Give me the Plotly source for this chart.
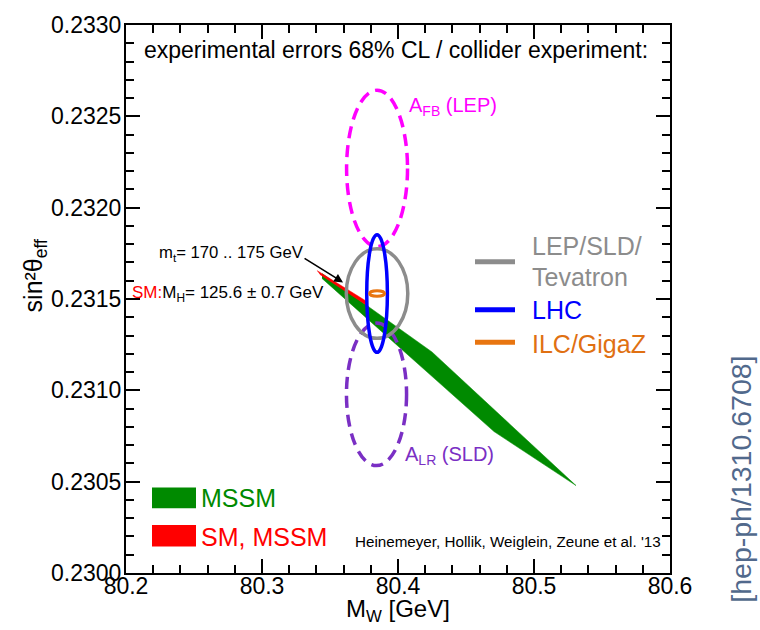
import plotly.graph_objects as go

# ---- data ---------------------------------------------------------------
# central value of the current measurements
mw_center = 80.3846
sw_center = 0.23153

# 68% CL error ellipses (semi-axes) of the collider scenarios
experiments = ["LEP/SLD/<br>Tevatron", "LHC", "ILC/GigaZ"]
exp_colors = ["#8c8c8c", "#0000ff", "#e87510"]
exp_mw_err = [0.0226, 0.0076, 0.0055]
exp_sw_err = [0.000245, 0.000322, 0.000015]
exp_widths = [3.5, 3.5, 3.0]

# single-observable ellipses
afb_center = (80.3846, 0.232215)
afb_err = (0.0224, 0.000428)
alr_center = (80.3842, 0.230978)
alr_err = (0.0221, 0.000390)

# MSSM prediction band (outline)
mssm_mw = [80.3441, 80.4250, 80.5309, 80.4706, 80.3441]
mssm_sw = [0.231640, 0.231210, 0.2304785, 0.2307742, 0.2316129]

# SM prediction strip (outline)
sm_mw = [80.3404, 80.3765, 80.3765, 80.3426]
sm_sw = [0.2316559, 0.2314892, 0.2314677, 0.2316344]

x_range = [80.2, 80.6]
y_range = [0.2300, 0.2330]

FONT = "Liberation Sans, Arial, Helvetica, sans-serif"
W, H = 760, 630
ML, MR, MT, MB = 126, 90, 15, 57
PW, PH = W - ML - MR, H - MT - MB


def px(x):
    return (x - ML) / PW


def py(y):
    return (H - MB - y) / PH


fig = go.Figure()

# MSSM band and SM strip
fig.add_trace(go.Scatter(x=mssm_mw, y=mssm_sw, fill="toself", mode="lines",
                         line=dict(color="#008a00", width=0.5),
                         fillcolor="#008a00", hoverinfo="skip", showlegend=False))
fig.add_trace(go.Scatter(x=sm_mw, y=sm_sw, fill="toself", mode="lines",
                         line=dict(color="#ff0000", width=0.5),
                         fillcolor="#ff0000", hoverinfo="skip", showlegend=False))

shapes = []
# dashed single-observable ellipses
for (cx, cy), (ex, ey), col in [(afb_center, afb_err, "#ff00ff"),
                                (alr_center, alr_err, "#7a2fc4")]:
    shapes.append(dict(type="circle", xref="x", yref="y",
                       x0=cx - ex, x1=cx + ex, y0=cy - ey, y1=cy + ey,
                       line=dict(color=col, width=3.5, dash="12px,7px"),
                       layer="above"))

# collider ellipses
for ex, ey, col, lw in zip(exp_mw_err, exp_sw_err, exp_colors, exp_widths):
    shapes.append(dict(type="circle", xref="x", yref="y",
                       x0=mw_center - ex, x1=mw_center + ex,
                       y0=sw_center - ey, y1=sw_center + ey,
                       line=dict(color=col, width=lw), layer="above"))

# legend glyphs
for yy, col in [(256, exp_colors[0]), (305, exp_colors[1]), (338, exp_colors[2])]:
    shapes.append(dict(type="line", xref="paper", yref="paper",
                       x0=px(475), x1=px(515), y0=py(yy), y1=py(yy),
                       line=dict(color=col, width=5)))
for (y0, y1), col in [((486, 507), "#008a00"), ((524, 546), "#ff0000")]:
    shapes.append(dict(type="rect", xref="paper", yref="paper",
                       x0=px(152), x1=px(196), y0=py(y1), y1=py(y0),
                       line=dict(width=0), fillcolor=col))

ann = []


def text(s, x, y, size, color="black", xanchor="left", angle=0):
    ann.append(dict(text=s, x=px(x), y=py(y), xref="paper", yref="paper",
                    xanchor=xanchor, yanchor="middle", showarrow=False,
                    textangle=angle, font=dict(family=FONT, size=size, color=color)))


text("experimental errors 68% CL / collider experiment:", 396, 40, 23, xanchor="center")
text("A<sub>FB</sub> (LEP)", 407, 98, 20, "#ff00ff")
text("A<sub>LR</sub> (SLD)", 403, 453, 20, "#7a2fc4")
text("m<sub>t</sub>= 170 .. 175 GeV", 157, 248, 16.7)
text("<span style='color:#ff0000'>SM:</span>M<sub>H</sub>= 125.6 ± 0.7 GeV", 130, 289, 17)
text("LEP/SLD/", 530, 240, 25, exp_colors[0])
text("Tevatron", 530, 272, 25, exp_colors[0])
text("LHC", 530, 305, 25, exp_colors[1])
text("ILC/GigaZ", 530, 340, 25, "#e07012")
text("MSSM", 199, 497, 25, "#008a00")
text("SM, MSSM", 199, 536, 25, "#ff0000")
text("Heinemeyer, Hollik, Weiglein, Zeune et al. '13", 663, 541, 15.2, xanchor="right")
text("[hep-ph/1310.6708]", 741, 478, 28.5, "#51698c", xanchor="center", angle=-90)
text("sin²θ<sub>eff</sub>", 35, 271, 25, xanchor="center", angle=-90)
text("M<sub>W</sub> [GeV]", 398, 611, 24, xanchor="center")

# arrow pointing at the m_t range end of the SM strip
ann.append(dict(x=80.3596, y=0.231591, xref="x", yref="y", ax=-40, ay=-25,
                text="", showarrow=True, arrowhead=2, arrowsize=1.1,
                arrowwidth=1.6, arrowcolor="black"))

axis_common = dict(showgrid=False, zeroline=False, showline=True, linecolor="black",
                   linewidth=2, mirror="ticks", ticks="inside", tickwidth=2,
                   tickcolor="black", tickfont=dict(family=FONT, size=23, color="black"))

fig.update_layout(
    width=W, height=H,
    margin=dict(l=ML, r=MR, t=MT, b=MB, pad=0),
    paper_bgcolor="white", plot_bgcolor="white",
    showlegend=False,
    xaxis=dict(range=x_range, tick0=80.2, dtick=0.1, tickformat=".1f", ticklen=14,
               ticklabelstandoff=-9,
               minor=dict(dtick=0.02, ticklen=8, tickwidth=1.5, ticks="inside",
                          tickcolor="black"),
               **axis_common),
    yaxis=dict(range=y_range, tick0=0.23, dtick=0.0005, tickformat=".4f", ticklen=14,
               ticklabelstandoff=-2,
               minor=dict(dtick=0.0001, ticklen=8, tickwidth=1.5, ticks="inside",
                          tickcolor="black"),
               **axis_common),
    shapes=shapes,
    annotations=ann,
)

fig.write_html("out.html")
